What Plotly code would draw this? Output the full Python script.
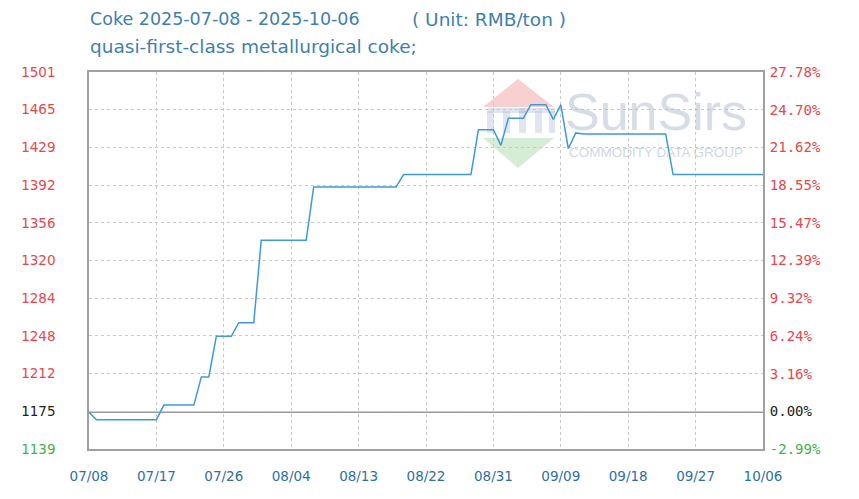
import plotly.graph_objects as go
import pandas as pd

# ---- data ----
dates = pd.date_range("2025-07-08", "2025-10-06", freq="D").strftime("%Y-%m-%d").tolist()
prices = [
    1175,
    1168, 1168, 1168, 1168, 1168, 1168, 1168, 1168, 1168,
    1182, 1182, 1182, 1182, 1182,
    1209, 1209,
    1248, 1248, 1248,
    1261, 1261, 1261,
    1340, 1340, 1340, 1340, 1340, 1340, 1340,
    1391, 1391, 1391, 1391, 1391, 1391, 1391, 1391, 1391, 1391, 1391, 1391,
    1403, 1403, 1403, 1403, 1403, 1403, 1403, 1403, 1403, 1403,
    1446, 1446, 1446,
    1431,
    1457, 1457, 1457,
    1470, 1470, 1470,
    1456,
    1470,
    1428,
    1443,
    1442, 1442, 1442, 1442, 1442, 1442, 1442, 1442, 1442, 1442, 1442, 1442,
    1403, 1403, 1403, 1403, 1403, 1403, 1403, 1403, 1403, 1403, 1403, 1403, 1403,
]
base_price = 1175
y_min, y_max = 1139.87, 1501.4
left_labels = ["1139", "1175", "1212", "1248", "1284", "1320", "1356", "1392", "1429", "1465", "1501"]
right_labels = ["-2.99%", "0.00%", "3.16%", "6.24%", "9.32%", "12.39%", "15.47%", "18.55%", "21.62%", "24.70%", "27.78%"]
x_tick_dates = ["2025-07-08", "2025-07-17", "2025-07-26", "2025-08-04", "2025-08-13",
                "2025-08-22", "2025-08-31", "2025-09-09", "2025-09-18", "2025-09-27", "2025-10-06"]
x_tick_labels = ["07/08", "07/17", "07/26", "08/04", "08/13", "08/22", "08/31", "09/09", "09/18", "09/27", "10/06"]

title_line1 = "Coke 2025-07-08 - 2025-10-06"
title_unit = "( Unit: RMB/ton )"
title_line2 = "quasi-first-class metallurgical coke;"

# ---- styling ----
RED = "#e8474b"
GREEN = "#3fb34a"
BLACK = "#222222"
BLUE_TXT = "#2f6fa6"
TITLE = "#3f7fae"
LINE = "#3f9ad6"

n = len(left_labels)
tickvals = [y_min + i * (y_max - y_min) / (n - 1) for i in range(n)]


def colored(labels):
    out = []
    for i, t in enumerate(labels):
        c = GREEN if i == 0 else (BLACK if i == 1 else RED)
        out.append(f'<span style="color:{c}">{t}</span>')
    return out


fig = go.Figure()
fig.add_trace(go.Scatter(x=dates, y=prices, mode="lines",
                         line=dict(color=LINE, width=1.5), hoverinfo="x+y", showlegend=False))
fig.add_trace(go.Scatter(x=dates, y=prices, mode="lines", yaxis="y2",
                         line=dict(color="rgba(0,0,0,0)", width=0), hoverinfo="skip", showlegend=False))

# page has an 8px body margin; plot area in page pixels: x 89..763, y 72..449
OFF = 8
W, H = 859 - OFF, 499 - OFF
L, R, T, B = 89, 763, 72, 449


def px(xp):
    return (xp - L) / (R - L)


def py(yp):
    return (B - yp) / (B - T)


shapes = [
    dict(type="line", xref="paper", yref="y", x0=0, x1=1, y0=base_price, y1=base_price,
         line=dict(color="#9a9a9a", width=1.5), layer="below"),
    # watermark logo
    dict(type="path", xref="paper", yref="paper", layer="below",
         path=f"M {px(483)} {py(107)} L {px(518)} {py(79)} L {px(554)} {py(107)} Z",
         fillcolor="rgba(240,150,150,0.45)", line=dict(width=0)),
    dict(type="path", xref="paper", yref="paper", layer="below",
         path=f"M {px(483)} {py(138)} L {px(554)} {py(138)} L {px(518)} {py(168)} Z",
         fillcolor="rgba(150,210,150,0.4)", line=dict(width=0)),
]
for x0, x1 in [(487, 494), (503, 510), (519, 526), (535, 542), (549, 555)]:
    shapes.append(dict(type="rect", xref="paper", yref="paper", layer="below",
                       x0=px(x0), x1=px(x1), y0=py(133), y1=py(111),
                       fillcolor="rgba(170,180,210,0.35)", line=dict(width=0)))
shapes.append(dict(type="rect", xref="paper", yref="paper", layer="below",
                   x0=px(487), x1=px(526), y0=py(113), y1=py(108),
                   fillcolor="rgba(170,180,210,0.35)", line=dict(width=0)))
shapes.append(dict(type="rect", xref="paper", yref="paper", layer="below",
                   x0=px(519), x1=px(555), y0=py(113), y1=py(108),
                   fillcolor="rgba(170,180,210,0.35)", line=dict(width=0)))

tfont = dict(family="DejaVu Sans", size=17.5, color=TITLE)
annotations = [
    dict(text=title_line1, xref="paper", yref="paper", x=px(88), y=py(19), xanchor="left", yanchor="middle",
         showarrow=False, font=tfont),
    dict(text=title_unit, xref="paper", yref="paper", x=px(410), y=py(19), xanchor="left", yanchor="middle",
         showarrow=False, font=dict(family="DejaVu Sans", size=18.5, color=TITLE)),
    dict(text=title_line2, xref="paper", yref="paper", x=px(88), y=py(46), xanchor="left", yanchor="middle",
         showarrow=False, font=dict(family="DejaVu Sans", size=18.5, color=TITLE)),
    dict(text="SunSirs", xref="paper", yref="paper", x=px(563), y=py(112), xanchor="left", yanchor="middle",
         showarrow=False, font=dict(family="Liberation Sans", size=52, color="rgba(175,188,205,0.5)")),
    dict(text="COMMODITY DATA GROUP", xref="paper", yref="paper", x=px(567), y=py(152), xanchor="left",
         yanchor="middle", showarrow=False,
         font=dict(family="Liberation Sans", size=13.5, color="rgba(175,188,205,0.6)")),
]

fig.update_layout(
    width=W, height=H,
    margin=dict(l=L - OFF, r=W - (R - OFF), t=T - OFF, b=H - (B - OFF), pad=0),
    paper_bgcolor="white", plot_bgcolor="white",
    showlegend=False,
    xaxis=dict(type="date", range=[dates[0], dates[-1]],
               tickvals=x_tick_dates, ticktext=x_tick_labels,
               showgrid=True, gridcolor="#c9c9c9", griddash="dot", gridwidth=1,
               showline=True, linecolor="#a0a0a0", linewidth=1.5, mirror=True,
               ticks="outside", ticklen=14, tickcolor="rgba(0,0,0,0)",
               tickfont=dict(family="DejaVu Sans", size=13.5, color=BLUE_TXT),
               zeroline=False),
    yaxis=dict(range=[y_min, y_max], tickvals=tickvals, ticktext=colored(left_labels),
               showgrid=True, gridcolor="#c9c9c9", griddash="dot", gridwidth=1,
               showline=True, linecolor="#a0a0a0", linewidth=1.5, mirror=True,
               ticks="outside", ticklen=29, tickcolor="rgba(0,0,0,0)",
               tickfont=dict(family="DejaVu Sans", size=13.5, color=RED),
               zeroline=False),
    yaxis2=dict(range=[y_min, y_max], overlaying="y", side="right", tickvals=tickvals,
                ticktext=colored(right_labels), showgrid=False, zeroline=False,
                ticks="outside", ticklen=3, tickcolor="rgba(0,0,0,0)",
                tickfont=dict(family="DejaVu Sans Mono", size=14, color=RED)),
    shapes=shapes,
    annotations=annotations,
)

fig.write_html("out.html")
